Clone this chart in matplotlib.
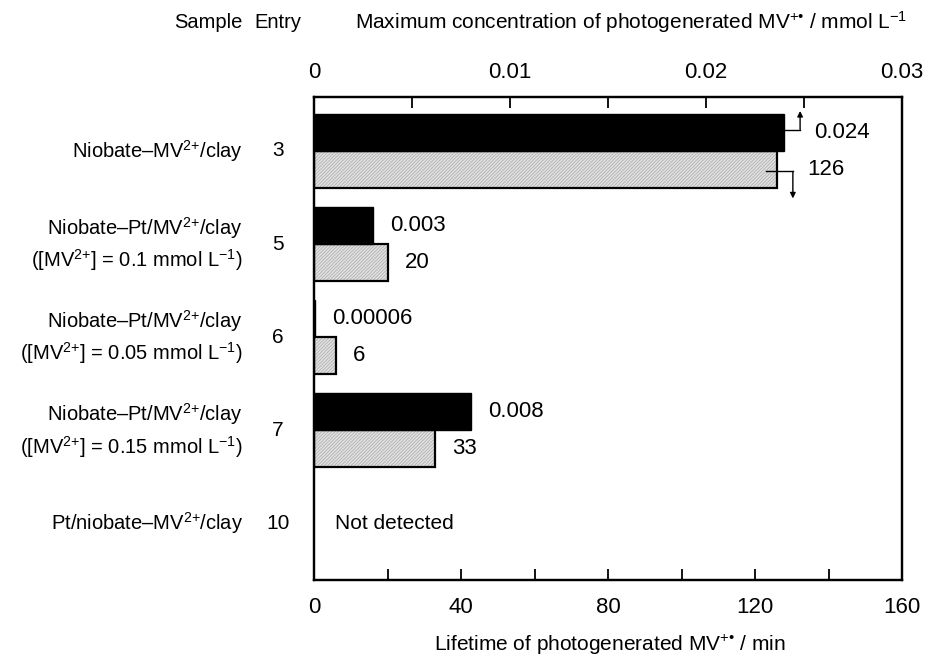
import matplotlib
matplotlib.use("Agg")
import matplotlib.pyplot as plt
import numpy as np

samples = [
    "Niobate\u2013MV$^{2{+}}$/clay",
    "Niobate\u2013Pt/MV$^{2{+}}$/clay\n([MV$^{2{+}}$] = 0.1 mmol L$^{\u22121}$)",
    "Niobate\u2013Pt/MV$^{2{+}}$/clay\n([MV$^{2{+}}$] = 0.05 mmol L$^{\u22121}$)",
    "Niobate\u2013Pt/MV$^{2{+}}$/clay\n([MV$^{2{+}}$] = 0.15 mmol L$^{\u22121}$)",
    "Pt/niobate\u2013MV$^{2{+}}$/clay",
]
entries = ["3", "5", "6", "7", "10"]
concentration = [0.024, 0.003, 0.00006, 0.008, np.nan]
concentration_labels = ["0.024", "0.003", "0.00006", "0.008", ""]
lifetime = [126, 20, 6, 33, np.nan]
lifetime_labels = ["126", "20", "6", "33", ""]

plt.rcParams["font.family"] = ["Liberation Sans", "DejaVu Sans"]
plt.rcParams["mathtext.fontset"] = "custom"
plt.rcParams["mathtext.rm"] = "Liberation Sans"
plt.rcParams["mathtext.it"] = "Liberation Sans:italic"
plt.rcParams["hatch.linewidth"] = 0.6

fig = plt.figure(figsize=(9.28, 6.59), dpi=100)
ax = fig.add_axes([0.3384, 0.1199, 0.6336, 0.7329])
ax2 = ax.twiny()

y = np.arange(len(samples))
h = 0.4

# lifetime bars (bottom axis): hatched light grey, then black outline
ax.barh(y + h / 2, lifetime, height=h, color="#e2e2e2", hatch="//////////",
        edgecolor="#b0b0b0", linewidth=0, zorder=2)
ax.barh(y + h / 2, lifetime, height=h, fill=False, edgecolor="black",
        linewidth=1.6, zorder=3)
# concentration bars (top axis)
ax2.barh(y - h / 2, concentration, height=h, color="black",
         edgecolor="black", linewidth=1.0, zorder=3)

ax.set_xlim(0, 160)
ax2.set_xlim(0, 0.03)
ax.set_ylim(4.61, -0.58)

FS = 16
for i in range(len(samples)):
    if np.isnan(lifetime[i]):
        continue
    off = 30 if i == 0 else 17
    ax2.annotate(concentration_labels[i], (concentration[i], y[i] - h / 2),
                 xytext=(off * 0.72, 0), textcoords="offset points",
                 va="center", ha="left", fontsize=FS)
    ax.annotate(lifetime_labels[i], (lifetime[i], y[i] + h / 2),
                xytext=(off * 0.72, 0), textcoords="offset points",
                va="center", ha="left", fontsize=FS)

# elbow arrows on entry 3
c0, l0 = concentration[0], lifetime[0]
ax2.plot([c0, c0 + 0.0008], [y[0] - h / 2 - 0.03] * 2, color="black", lw=1, zorder=4)
ax2.annotate("", xy=(c0 + 0.0008, y[0] - 0.43), xytext=(c0 + 0.0008, y[0] - h / 2 - 0.03),
             arrowprops=dict(arrowstyle="-|>", color="black", lw=1, mutation_scale=8,
                             shrinkA=0, shrinkB=0), zorder=4)
ax.plot([l0 - 3, l0 + 4.3], [y[0] + h / 2 + 0.02] * 2, color="black", lw=1, zorder=4)
ax.annotate("", xy=(l0 + 4.3, y[0] + 0.51), xytext=(l0 + 4.3, y[0] + h / 2 + 0.02),
            arrowprops=dict(arrowstyle="-|>", color="black", lw=1, mutation_scale=8,
                            shrinkA=0, shrinkB=0), zorder=4)

ax.text(5.8, y[4], "Not detected", va="center", ha="left", fontsize=15)

# ticks
ax.set_xticks([0, 40, 80, 120, 160])
ax.set_xticks(np.arange(20, 160, 40), minor=True)
ax2.set_xticks([0, 0.01, 0.02, 0.03])
ax2.set_xticklabels(["0", "0.01", "0.02", "0.03"])
ax2.set_xticks(np.arange(0.005, 0.03, 0.01), minor=True)
for a in (ax, ax2):
    a.tick_params(axis="x", which="both", direction="in", length=8, width=1.3,
                  labelsize=FS)
ax.tick_params(axis="x", pad=12)
ax2.tick_params(axis="x", pad=10)
ax.set_yticks([])
ax2.set_yticks([])
for a in (ax, ax2):
    for s in a.spines.values():
        s.set_linewidth(1.6)

ax.set_xlabel("Lifetime of photogenerated MV$^{+\u2022}$ / min", fontsize=15)
ax.xaxis.set_label_coords((610 - 314) / 588, (14 - 79) / 483)
ax.xaxis.label.set_va("center")
ax2.set_xlabel("Maximum concentration of photogenerated MV$^{+\u2022}$ / mmol L$^{\u22121}$",
               fontsize=15)
ax2.xaxis.set_label_coords((631 - 314) / 588, (637 - 79) / 483)
ax2.xaxis.label.set_va("center")

# row labels
tr = ax.get_yaxis_transform()
for i in range(len(samples)):
    ax.text(-0.121, y[i], samples[i], transform=tr, ha="right", va="center",
            fontsize=14.5, linespacing=1.35)
    ax.text(-0.061, y[i], entries[i], transform=tr, ha="center", va="center",
            fontsize=15)
fig.text(243 / 928, 1 - 23 / 659, "Sample", ha="right", va="center", fontsize=14.5)
fig.text(278 / 928, 1 - 23 / 659, "Entry", ha="center", va="center", fontsize=14.5)

fig.savefig("out.png", dpi=100)
